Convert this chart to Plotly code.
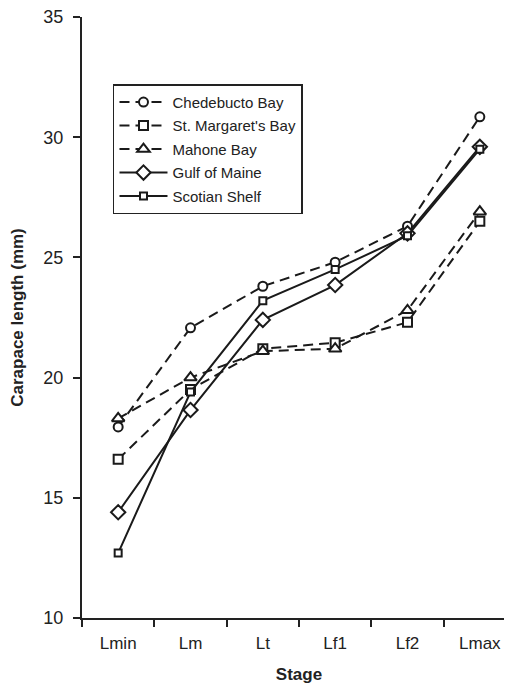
import plotly.graph_objects as go

stages = ["Lmin", "Lm", "Lt", "Lf1", "Lf2", "Lmax"]
chedebucto = [17.95, 22.07, 23.8, 24.8, 26.3, 30.85]
st_margarets = [16.6, 19.5, 21.2, 21.45, 22.3, 26.5]
mahone = [18.3, 20.0, 21.1, 21.2, 22.8, 26.9]
gulf_of_maine = [14.4, 18.65, 22.4, 23.85, 26.0, 29.6]
scotian_shelf = [12.7, 19.4, 23.2, 24.5, 25.9, 29.5]

series = [
    ("Chedebucto Bay", chedebucto, "10px,6px", "circle", 9),
    ("St. Margaret's Bay", st_margarets, "10px,6px", "square", 9),
    ("Mahone Bay", mahone, "10px,6px", "triangle-up", 11),
    ("Gulf of Maine", gulf_of_maine, "solid", "diamond", 11),
    ("Scotian Shelf", scotian_shelf, "solid", "square", 7),
]

fig = go.Figure()
for i, (name, vals, dash, sym, sz) in enumerate(series):
    fig.add_trace(go.Scatter(
        x=stages, y=vals, name=name, mode="lines+markers",
        legendgroup=f"g{i}",
        line=dict(color="#1a1a1a", width=2, dash=dash),
        marker=dict(symbol=sym, size=sz, color="white",
                    line=dict(color="#1a1a1a", width=2)),
    ))

font_family = "Liberation Sans, Arial, sans-serif"
fig.update_layout(
    width=512, height=685,
    margin=dict(l=74, r=4, t=9, b=75),
    paper_bgcolor="white", plot_bgcolor="white",
    font=dict(family=font_family, color="#222", size=15),
    showlegend=True,
    legend=dict(
        x=0.0714, y=0.888, xanchor="left", yanchor="top",
        bordercolor="#222", borderwidth=1.5, bgcolor="white",
        font=dict(size=15, family=font_family, color="#222"),
        tracegroupgap=1, itemwidth=48,
    ),
    xaxis=dict(
        type="category", categoryorder="array", categoryarray=stages,
        range=[-0.5, 5.5], tickson="boundaries", automargin=False,
        ticks="outside", ticklen=7, tickwidth=2, tickcolor="#222",
        showline=True, linecolor="#222", linewidth=2,
        showgrid=False, zeroline=False, ticklabelstandoff=9,
        ticklabeloverflow="allow",
        tickfont=dict(size=17),
        title=dict(text="<b>Stage</b>", font=dict(size=17), standoff=16),
    ),
    yaxis=dict(
        range=[10, 35], dtick=5, tick0=10, automargin=False,
        ticks="outside", ticklen=7, tickwidth=2, tickcolor="#222",
        showline=True, linecolor="#222", linewidth=2,
        showgrid=False, zeroline=False, ticklabelstandoff=6,
        ticklabeloverflow="allow",
        tickfont=dict(size=18),
        title=dict(text="<b>Carapace length (mm)</b>", font=dict(size=17), standoff=17),
    ),
)

fig.write_html("out.html")
